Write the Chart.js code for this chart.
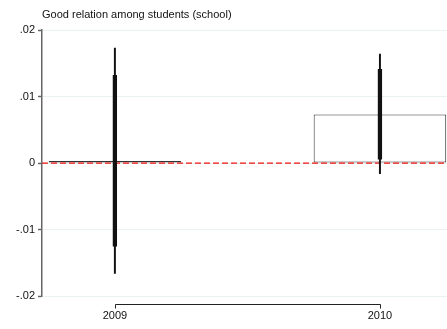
<!DOCTYPE html>
<html>
<head>
<meta charset="utf-8">
<script src="https://cdn.jsdelivr.net/npm/chart.js@4"></script>
<style>
  body { margin: 0; background: #fff; }
  #wrap { width: 447px; height: 329px; }
</style>
</head>
<body>
<div id="wrap"><canvas id="grafico1"></canvas></div>
<script>
const titulo = "Good relation among students (school)";
const anos = ["2009", "2010"];
const estimativas = [0.0003, 0.0073];
const ic95Min = [-0.0166, -0.0016];
const ic95Max = [0.0173, 0.0164];
const ic90Min = [-0.0125, 0.0006];
const ic90Max = [0.0132, 0.0141];
const yTicks = [-0.02, -0.01, 0, 0.01, 0.02];
const yTickLabels = ["-.02", "-.01", "0", ".01", ".02"];

const fonte = "'Liberation Sans', Arial, sans-serif";

// linha vermelha tracejada no zero, logo depois das barras
const linhaZero = {
    id: 'linhaZero',
    afterDatasetDraw(chart, args) {
        if (args.index !== 0) return;
        const { ctx, chartArea, scales } = chart;
        const y = scales.y.getPixelForValue(0);
        ctx.save();
        ctx.globalAlpha = 1;
        ctx.strokeStyle = "rgb(240, 20, 20)";
        ctx.lineWidth = 1.4;
        ctx.setLineDash([6, 3]);
        ctx.beginPath();
        ctx.moveTo(chartArea.left, y);
        ctx.lineTo(chartArea.right, y);
        ctx.stroke();
        ctx.restore();
    }
};

// eixo x estilo stata: so entre o primeiro e o ultimo ano
const eixoX = {
    id: 'eixoX',
    afterDraw(chart) {
        const { ctx, chartArea, scales } = chart;
        const y = Math.round(chartArea.bottom + 8) + 0.5;
        const x0 = Math.round(scales.x.getPixelForValue(0)) + 0.5;
        const x1 = Math.round(scales.x.getPixelForValue(anos.length - 1)) + 0.5;
        ctx.save();
        ctx.strokeStyle = "#222";
        ctx.lineWidth = 1;
        ctx.beginPath();
        ctx.moveTo(x0, y + 4);
        ctx.lineTo(x0, y);
        ctx.lineTo(x1, y);
        ctx.lineTo(x1, y + 4);
        ctx.stroke();
        ctx.restore();
    }
};

const ctx = document.getElementById('grafico1').getContext('2d');
new Chart(ctx, {
    type: 'bar',
    data: {
        datasets: [
            {
                label: "estimativa",
                data: estimativas.map((v, i) => ({ x: i, y: v })),
                backgroundColor: "rgba(255,255,255,1)",
                borderColor: "#333",
                borderWidth: 1,
                borderSkipped: false,
                barPercentage: 0.5,
                categoryPercentage: 1,
                grouped: false,
                order: 3
            },
            {
                label: "IC 95%",
                data: ic95Min.map((v, i) => ({ x: i, y: [v, ic95Max[i]] })),
                backgroundColor: "#111",
                borderWidth: 0,
                barThickness: 1.3,
                grouped: false,
                order: 2
            },
            {
                label: "IC 90%",
                data: ic90Min.map((v, i) => ({ x: i, y: [v, ic90Max[i]] })),
                backgroundColor: "#111",
                borderWidth: 0,
                barThickness: 3.6,
                grouped: false,
                order: 1
            }
        ]
    },
    options: {
        responsive: true,
        maintainAspectRatio: false,
        animation: false,
        layout: { padding: 0 },
        plugins: {
            legend: { display: false },
            tooltip: { enabled: false },
            title: {
                display: true,
                text: titulo,
                align: 'start',
                fullSize: false,
                color: "#111",
                font: { family: fonte, size: 11, weight: 'normal' },
                padding: { top: 8, bottom: 9 }
            }
        },
        scales: {
            x: {
                type: 'linear',
                offset: false,
                min: -0.275,
                max: 1.253,
                afterBuildTicks: scale => { scale.ticks = anos.map((_, i) => ({ value: i })); },
                afterFit: scale => { scale.height = 33; },
                grid: { display: false, drawTicks: false, offset: false },
                border: { display: false },
                ticks: {
                    padding: 13,
                    color: "#111",
                    font: { family: fonte, size: 11 },
                    maxRotation: 0,
                    callback: v => anos[v] ?? ''
                }
            },
            y: {
                min: -0.02,
                max: 0.02,
                afterBuildTicks: scale => { scale.ticks = yTicks.map(v => ({ value: v })); },
                afterFit: scale => { scale.width = 42; },
                grid: {
                    color: "#eaf1f2",
                    lineWidth: 1,
                    tickColor: "#666",
                    tickWidth: 1.5,
                    tickLength: 4
                },
                border: { color: "#666", width: 1.5 },
                ticks: {
                    padding: 3,
                    color: "#111",
                    font: { family: fonte, size: 11 },
                    callback: v => yTickLabels[yTicks.indexOf(v)] ?? ''
                }
            }
        }
    },
    plugins: [linhaZero, eixoX]
});
</script>
</body>
</html>
